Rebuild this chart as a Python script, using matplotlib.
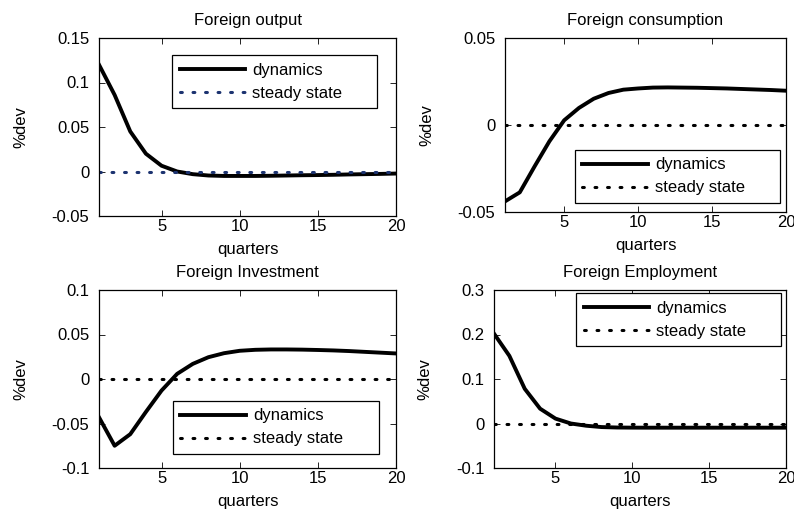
import matplotlib
matplotlib.use("Agg")
import matplotlib.pyplot as plt
import numpy as np

plt.rcParams['font.family'] = ['Liberation Sans', 'DejaVu Sans']
plt.rcParams['font.size'] = 12

quarters = np.arange(1, 21)

# impulse responses, % deviation from steady state
output = [0.120, 0.086, 0.045, 0.020, 0.0065, 0.000, -0.003, -0.0045, -0.005, -0.005,
          -0.005, -0.0048, -0.0045, -0.0042, -0.004, -0.0037, -0.0033, -0.003, -0.0027, -0.0023]
consumption = [-0.0439, -0.0387, -0.0238, -0.0094, 0.0027, 0.0098, 0.0151, 0.0184, 0.0203, 0.0210,
               0.0215, 0.0216, 0.0215, 0.0214, 0.0212, 0.0210, 0.0207, 0.0204, 0.0201, 0.0197]
investment = [-0.043, -0.075, -0.062, -0.037, -0.013, 0.0058, 0.017, 0.0245, 0.029, 0.0317,
              0.0328, 0.0332, 0.0332, 0.0330, 0.0326, 0.0321, 0.0314, 0.0305, 0.0296, 0.0287]
employment = [0.202, 0.152, 0.078, 0.0333, 0.011, 0.000, -0.005, -0.008, -0.009, -0.0093,
              -0.0094, -0.0094, -0.0094, -0.0094, -0.0094, -0.0094, -0.0094, -0.0094, -0.0094, -0.0094]

titles = ["Foreign output", "Foreign consumption", "Foreign Investment", "Foreign Employment"]
series = [output, consumption, investment, employment]
ylims = [(-0.05, 0.15), (-0.05, 0.05), (-0.1, 0.1), (-0.1, 0.3)]
yticks = [[-0.05, 0, 0.05, 0.1, 0.15], [-0.05, 0, 0.05], [-0.1, -0.05, 0, 0.05, 0.1], [-0.1, 0, 0.1, 0.2, 0.3]]
ss_colors = ["#1c3370", "black", "black", "black"]

# axes boxes in pixels: left, top, right, bottom
boxes = [(99, 38, 396, 216), (505, 38, 786, 212), (99, 290, 396, 468), (494, 290, 786, 468)]
# legend boxes in axes fractions (x0, y0, width, height) + which corner they hug
leg_pos = [("upper left", (0.246, 0.607, 0.690, 0.297)),
           ("lower left", (0.249, 0.052, 0.730, 0.300)),
           ("lower left", (0.249, 0.079, 0.694, 0.297)),
           ("upper left", (0.281, 0.629, 0.702, 0.354))]

W, H = 794, 512
fig = plt.figure(figsize=(W / 100, H / 100), dpi=100)

for i in range(4):
    l, t, r, b = boxes[i]
    ax = fig.add_axes([l / W, 1 - b / H, (r - l) / W, (b - t) / H])
    ax.plot(quarters, series[i], color="black", lw=2.8, label="dynamics")
    ax.plot(quarters, np.zeros(len(quarters)), color=ss_colors[i], lw=2.2,
            linestyle=(0, (0.6, 3.5)), dash_capstyle="round", label="steady state")
    ax.set_xlim(1, 20)
    ax.set_ylim(*ylims[i])
    ax.set_xticks([5, 10, 15, 20])
    ax.set_yticks(yticks[i])
    ax.set_yticklabels(["%g" % v for v in yticks[i]])
    ax.tick_params(direction="in", top=True, right=True, length=4, width=0.6)
    ax.tick_params(axis="x", pad=2)
    ax.tick_params(axis="y", pad=7)
    for s in ax.spines.values():
        s.set_linewidth(0.9)
    ax.set_title(titles[i], fontsize=12, pad=9)
    ax.set_xlabel("quarters", labelpad=6)
    ax.set_ylabel("%dev", labelpad=17)
    loc, anchor = leg_pos[i]
    leg = ax.legend(loc=loc, bbox_to_anchor=anchor, mode="expand", fancybox=False,
                    framealpha=1, edgecolor="black", handlelength=3.95, handletextpad=0.4,
                    borderpad=0.45, labelspacing=0.48, borderaxespad=0, fontsize=12)
    leg.get_frame().set_linewidth(0.9)

fig.savefig("out.png", dpi=100)
